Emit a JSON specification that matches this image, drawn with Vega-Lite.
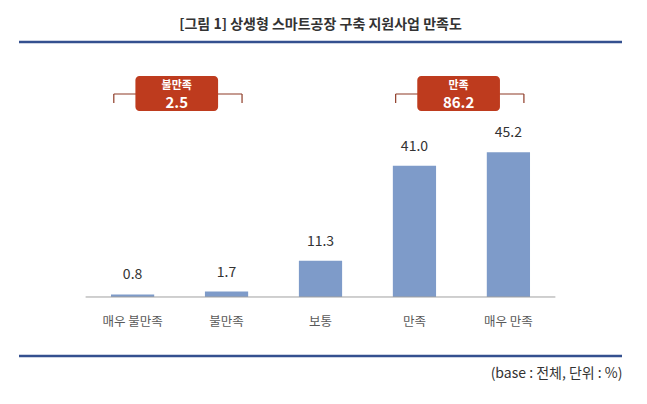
{
  "$schema": "https://vega.github.io/schema/vega-lite/v6.json",
  "width": 603,
  "height": 314,
  "autosize": {"type": "none"},
  "padding": {"left": 19, "right": 25, "top": 42, "bottom": 48},
  "background": "white",
  "config": {
    "view": {"stroke": null},
    "font": "Noto Sans CJK KR",
    "axisX": {
      "orient": "bottom",
      "offset": -59,
      "domain": false,
      "ticks": false,
      "grid": false,
      "labelAngle": 0,
      "labelPadding": 18,
      "labelFontSize": 12.5,
      "labelColor": "#595959",
      "labelFont": "Noto Sans CJK KR",
      "titleAnchor": "end",
      "titleAlign": "right",
      "titlePadding": 39,
      "titleFontSize": 14,
      "titleFontWeight": "normal",
      "titleColor": "#333333",
      "titleFont": "Noto Sans CJK KR"
    }
  },
  "title": {
    "text": "[그림 1] 상생형 스마트공장 구축 지원사업 만족도",
    "anchor": "middle",
    "frame": "group",
    "offset": 9,
    "fontSize": 14,
    "fontWeight": "bold",
    "color": "#333333",
    "font": "Noto Sans CJK KR"
  },
  "datasets": {
    "bars": [
      {"cat": "매우 불만족", "value": 0.8},
      {"cat": "불만족", "value": 1.7},
      {"cat": "보통", "value": 11.3},
      {"cat": "만족", "value": 41.0},
      {"cat": "매우 만족", "value": 45.2}
    ],
    "groups": [
      {"label": "불만족", "total": "2.5", "from": "매우 불만족", "to": "불만족"},
      {"label": "만족", "total": "86.2", "from": "만족", "to": "매우 만족"}
    ],
    "one": [{}]
  },
  "layer": [
    {
      "data": {"name": "bars"},
      "mark": {"type": "bar", "width": {"band": 0.46}, "color": "#7E9BC9"},
      "encoding": {
        "x": {
          "field": "cat",
          "type": "nominal",
          "sort": null,
          "title": "(base : 전체, 단위 : %)",
          "scale": {"domain": ["매우 불만족", "불만족", "보통", "만족", "매우 만족"], "paddingInner": 0, "paddingOuter": 0.709}
        },
        "y": {
          "field": "value",
          "type": "quantitative",
          "scale": {"domain": [-18.44, 79.69], "nice": false, "zero": false},
          "axis": null
        }
      }
    },
    {
      "data": {"name": "bars"},
      "mark": {"type": "text", "baseline": "middle", "dy": -19, "fontSize": 14, "color": "#333333"},
      "encoding": {
        "x": {"field": "cat", "type": "nominal", "sort": null, "title": "(base : 전체, 단위 : %)"},
        "y": {"field": "value", "type": "quantitative", "axis": null},
        "text": {"field": "value", "type": "quantitative", "format": ".1f"}
      }
    },
    {
      "data": {"name": "one"},
      "mark": {"type": "rule", "color": "#A0A0A0", "strokeWidth": 1},
      "encoding": {
        "x": {"datum": "매우 불만족", "type": "nominal", "bandPosition": 0, "title": "(base : 전체, 단위 : %)"},
        "x2": {"datum": "매우 만족", "bandPosition": 1},
        "y": {"datum": 0, "type": "quantitative", "axis": null}
      }
    },
    {
      "data": {"name": "one"},
      "mark": {"type": "rule", "color": "#34508F", "strokeWidth": 2.5},
      "encoding": {"y": {"datum": 79.69, "type": "quantitative", "axis": null}}
    },
    {
      "data": {"name": "one"},
      "mark": {"type": "rule", "color": "#34508F", "strokeWidth": 2.5},
      "encoding": {"y": {"datum": -18.44, "type": "quantitative", "axis": null}}
    },
    {
      "data": {"name": "groups"},
      "mark": {"type": "rule", "color": "#8E3B26", "strokeWidth": 1.2},
      "encoding": {
        "x": {"field": "from", "type": "nominal", "bandPosition": 0.3, "title": "(base : 전체, 단위 : %)"},
        "x2": {"field": "to", "bandPosition": 0.665},
        "y": {"datum": 63.44, "type": "quantitative", "axis": null}
      }
    },
    {
      "data": {"name": "groups"},
      "mark": {"type": "rule", "color": "#8E3B26", "strokeWidth": 1.2},
      "encoding": {
        "x": {"field": "from", "type": "nominal", "bandPosition": 0.3, "title": "(base : 전체, 단위 : %)"},
        "y": {"datum": 63.44, "type": "quantitative", "axis": null},
        "y2": {"datum": 60.63}
      }
    },
    {
      "data": {"name": "groups"},
      "mark": {"type": "rule", "color": "#8E3B26", "strokeWidth": 1.2},
      "encoding": {
        "x": {"field": "to", "type": "nominal", "bandPosition": 0.665, "title": "(base : 전체, 단위 : %)"},
        "y": {"datum": 63.44, "type": "quantitative", "axis": null},
        "y2": {"datum": 60.63}
      }
    },
    {
      "data": {"name": "groups"},
      "mark": {"type": "rect", "color": "#BE3B1E", "cornerRadius": 4},
      "encoding": {
        "x": {"field": "from", "type": "nominal", "bandPosition": 0.53, "title": "(base : 전체, 단위 : %)"},
        "x2": {"field": "to", "bandPosition": 0.41},
        "y": {"datum": 69.06, "type": "quantitative", "axis": null},
        "y2": {"datum": 58.13}
      }
    },
    {
      "data": {"name": "groups"},
      "mark": {"type": "text", "color": "white", "fontWeight": "bold", "fontSize": 11, "baseline": "middle"},
      "encoding": {
        "x": {"field": "from", "type": "nominal", "bandPosition": 0.97, "title": "(base : 전체, 단위 : %)"},
        "y": {"datum": 65.94, "type": "quantitative", "axis": null},
        "text": {"field": "label"}
      }
    },
    {
      "data": {"name": "groups"},
      "mark": {"type": "text", "color": "white", "fontWeight": "bold", "fontSize": 15, "baseline": "middle"},
      "encoding": {
        "x": {"field": "from", "type": "nominal", "bandPosition": 0.97, "title": "(base : 전체, 단위 : %)"},
        "y": {"datum": 60.63, "type": "quantitative", "axis": null},
        "text": {"field": "total"}
      }
    }
  ]
}
